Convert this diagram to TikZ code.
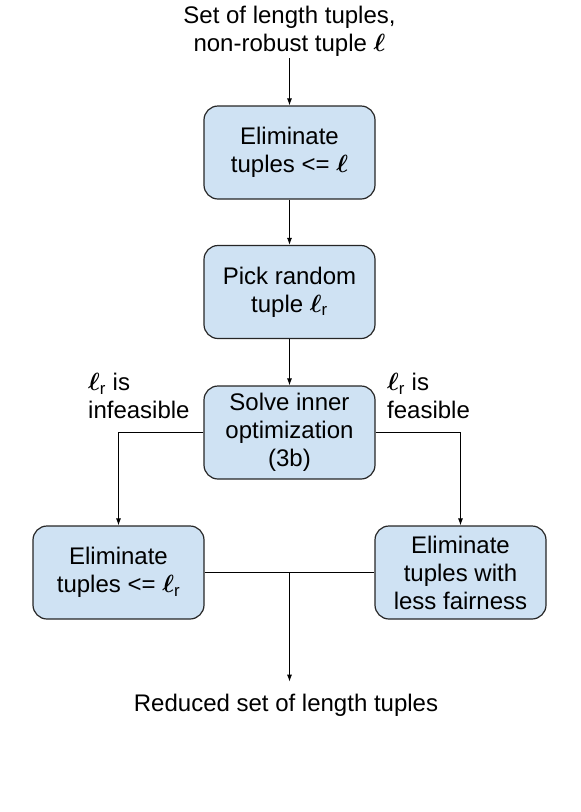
\documentclass[tikz,border=0pt]{standalone}
\usepackage{amsmath,amssymb}
\usepackage{fontspec}
\setmainfont{Liberation Sans}
\usepackage{tikz}
\usetikzlibrary{arrows.meta,positioning}

\definecolor{boxblue}{HTML}{CFE2F3}
\newcommand{\ellb}{\ensuremath{\boldsymbol{\ell}}}
\newcommand{\ellr}{\ensuremath{\boldsymbol{\ell}_{\text{r}}}}

\tikzset{
	stepbox/.style={draw=black!85, fill=boxblue, line width=1.2pt, rounded corners=14pt,
		minimum width=171pt, minimum height=93pt, align=center},
	flow/.style={line width=0.9pt, -{Latex[length=7pt,width=5pt]}}
}

\begin{document}
\begin{tikzpicture}[x=1pt, y=-1pt, font=\fontsize{24}{28}\selectfont]
		\useasboundingbox (0,0) rectangle (581,812);

		\node[align=center, inner sep=2pt] (input) at (289.5,31) {Set of length tuples,\\non-robust tuple \ellb};
		\node[stepbox] (elim) at (289.5,152.5) {Eliminate\\tuples <= \ellb};
		\node[stepbox] (pick) at (289.5,292) {Pick random\\tuple \ellr};
		\node[stepbox] (solve) at (289.5,432.5) {Solve inner\\optimization\\(3b)};
		\node[stepbox] (elimlow) at (118.5,572.5) {Eliminate\\tuples <= \ellr};
		\node[stepbox] (elimfair) at (460.5,572.5) {Eliminate\\tuples with\\less fairness};
		\node[inner sep=12pt] (output) at (286,705) {Reduced set of length tuples};

		\node[align=left, anchor=west, inner sep=0pt] (infeas) at (88,396) {\ellr{} is\\infeasible};
		\node[align=left, anchor=west, inner sep=0pt] (feas) at (387,396) {\ellr{} is\\feasible};

		\draw[flow] (input) -- (elim);
		\draw[flow] (elim) -- (pick);
		\draw[flow] (pick) -- (solve);
		\draw[flow] (solve.west) -| (elimlow.north);
		\draw[flow] (solve.east) -| (elimfair.north);
		\draw[line width=0.9pt] (elimlow.east) -- (elimfair.west) coordinate[midway] (merge);
		\draw[flow] (merge) -- (merge |- output.north);
	\end{tikzpicture}
\end{document}
